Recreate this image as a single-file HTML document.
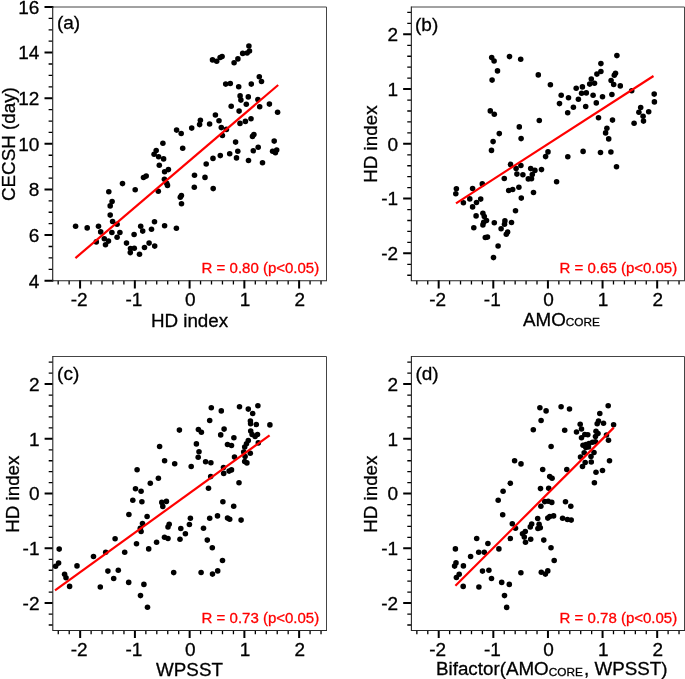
<!DOCTYPE html>
<html><head><meta charset="utf-8"><title>scatter</title>
<style>
html,body{margin:0;padding:0;background:#fff;}
body{width:685px;height:679px;overflow:hidden;}
svg{display:block;will-change:transform;}
text{font-family:"Liberation Sans",sans-serif;fill:#000;stroke:#000;stroke-width:0.3px;}
.tk{font-size:19px;}
.tt{font-size:18.8px;}
.lb{font-size:19px;}
.rr{font-size:15px;fill:#f00;stroke:#f00;stroke-width:0.3px;}
.sub{font-size:11.8px;}
</style></head><body>
<svg width="685" height="679" viewBox="0 0 685 679">
<rect width="685" height="679" fill="#fff"/>
<g id="panel-a">
<path d="M52.70 7.00H326.50V280.70" fill="none" stroke="#444" stroke-width="1"/>
<path d="M58.18 280.70v3.80M69.13 280.70v3.80M91.03 280.70v3.80M101.98 280.70v3.80M112.94 280.70v3.80M123.89 280.70v3.80M145.79 280.70v3.80M156.74 280.70v3.80M167.70 280.70v3.80M178.65 280.70v3.80M200.55 280.70v3.80M211.50 280.70v3.80M222.46 280.70v3.80M233.41 280.70v3.80M255.31 280.70v3.80M266.26 280.70v3.80M277.22 280.70v3.80M288.17 280.70v3.80M310.07 280.70v3.80M321.02 280.70v3.80M52.70 269.30h-4.10M52.70 257.89h-4.10M52.70 246.49h-4.10M52.70 223.68h-4.10M52.70 212.27h-4.10M52.70 200.87h-4.10M52.70 178.06h-4.10M52.70 166.66h-4.10M52.70 155.25h-4.10M52.70 132.45h-4.10M52.70 121.04h-4.10M52.70 109.64h-4.10M52.70 86.83h-4.10M52.70 75.43h-4.10M52.70 64.02h-4.10M52.70 41.21h-4.10M52.70 29.81h-4.10M52.70 18.40h-4.10" stroke="#000" stroke-width="1.3" fill="none"/>
<path d="M80.08 280.10v8.40M134.84 280.10v8.40M189.60 280.10v8.40M244.36 280.10v8.40M299.12 280.10v8.40M53.30 280.70h-8.80M52.70 235.08h-8.20M52.70 189.47h-8.20M52.70 143.85h-8.20M52.70 98.23h-8.20M52.70 52.62h-8.20M53.30 7.00h-8.80" stroke="#000" stroke-width="2" fill="none"/>
<path d="M52.70 6.50V280.70H327.00" fill="none" stroke="#262626" stroke-width="1.15" stroke-linejoin="miter"/>
<text class="tk" x="79.08" y="306.00" text-anchor="middle">-2</text>
<text class="tk" x="133.84" y="306.00" text-anchor="middle">-1</text>
<text class="tk" x="190.20" y="306.00" text-anchor="middle">0</text>
<text class="tk" x="244.96" y="306.00" text-anchor="middle">1</text>
<text class="tk" x="299.72" y="306.00" text-anchor="middle">2</text>
<text class="tk" x="39.40" y="287.50" text-anchor="end">4</text>
<text class="tk" x="39.40" y="241.88" text-anchor="end">6</text>
<text class="tk" x="39.40" y="196.27" text-anchor="end">8</text>
<text class="tk" x="39.40" y="150.65" text-anchor="end">10</text>
<text class="tk" x="39.40" y="105.03" text-anchor="end">12</text>
<text class="tk" x="39.40" y="59.42" text-anchor="end">14</text>
<text class="tk" x="39.40" y="13.80" text-anchor="end">16</text>
<g fill="#000"><circle cx="75.6" cy="226.3" r="2.78"/><circle cx="87.2" cy="227.9" r="2.78"/><circle cx="98.5" cy="226.3" r="2.78"/><circle cx="100.7" cy="231.9" r="2.78"/><circle cx="96.3" cy="241.9" r="2.78"/><circle cx="104.3" cy="238.7" r="2.78"/><circle cx="108.5" cy="241.1" r="2.78"/><circle cx="105.5" cy="244.7" r="2.78"/><circle cx="111.9" cy="232.5" r="2.78"/><circle cx="117.1" cy="237.3" r="2.78"/><circle cx="119.9" cy="232.5" r="2.78"/><circle cx="117.1" cy="224.3" r="2.78"/><circle cx="112.6" cy="221.5" r="2.78"/><circle cx="110.2" cy="215.1" r="2.78"/><circle cx="110.2" cy="205.9" r="2.78"/><circle cx="112.1" cy="201.5" r="2.78"/><circle cx="108.8" cy="191.7" r="2.78"/><circle cx="122.5" cy="183.6" r="2.78"/><circle cx="135.2" cy="189.7" r="2.78"/><circle cx="143.5" cy="177.5" r="2.78"/><circle cx="146.2" cy="176.1" r="2.78"/><circle cx="126.5" cy="243.1" r="2.78"/><circle cx="130.5" cy="248.5" r="2.78"/><circle cx="134.3" cy="248.3" r="2.78"/><circle cx="130.3" cy="252.6" r="2.78"/><circle cx="139.5" cy="254.2" r="2.78"/><circle cx="134.1" cy="234.5" r="2.78"/><circle cx="140.7" cy="226.3" r="2.78"/><circle cx="142.7" cy="231.1" r="2.78"/><circle cx="144.5" cy="247.5" r="2.78"/><circle cx="149.1" cy="243.1" r="2.78"/><circle cx="154.7" cy="246.1" r="2.78"/><circle cx="151.5" cy="229.3" r="2.78"/><circle cx="154.5" cy="221.7" r="2.78"/><circle cx="164.6" cy="225.7" r="2.78"/><circle cx="176.4" cy="228.3" r="2.78"/><circle cx="158.3" cy="191.3" r="2.78"/><circle cx="167.5" cy="185.4" r="2.78"/><circle cx="164.4" cy="179.3" r="2.78"/><circle cx="164.6" cy="171.7" r="2.78"/><circle cx="168.4" cy="169.6" r="2.78"/><circle cx="159.3" cy="165.3" r="2.78"/><circle cx="163.6" cy="158.9" r="2.78"/><circle cx="158.6" cy="156.8" r="2.78"/><circle cx="154.1" cy="154.2" r="2.78"/><circle cx="156.2" cy="150.6" r="2.78"/><circle cx="181.5" cy="203.8" r="2.78"/><circle cx="194.3" cy="187.2" r="2.78"/><circle cx="194.5" cy="175.3" r="2.78"/><circle cx="248.9" cy="46.0" r="2.78"/><circle cx="249.5" cy="51.0" r="2.78"/><circle cx="247.1" cy="53.0" r="2.78"/><circle cx="242.7" cy="53.4" r="2.78"/><circle cx="237.9" cy="58.9" r="2.78"/><circle cx="234.1" cy="62.7" r="2.78"/><circle cx="222.1" cy="56.5" r="2.78"/><circle cx="220.1" cy="57.5" r="2.78"/><circle cx="216.7" cy="61.3" r="2.78"/><circle cx="212.5" cy="59.9" r="2.78"/><circle cx="259.3" cy="76.7" r="2.78"/><circle cx="261.5" cy="81.5" r="2.78"/><circle cx="251.3" cy="84.1" r="2.78"/><circle cx="238.7" cy="86.7" r="2.78"/><circle cx="230.3" cy="83.5" r="2.78"/><circle cx="225.7" cy="84.1" r="2.78"/><circle cx="240.1" cy="95.9" r="2.78"/><circle cx="240.9" cy="100.1" r="2.78"/><circle cx="248.3" cy="96.9" r="2.78"/><circle cx="257.9" cy="99.5" r="2.78"/><circle cx="246.3" cy="104.3" r="2.78"/><circle cx="259.7" cy="106.7" r="2.78"/><circle cx="269.4" cy="104.1" r="2.78"/><circle cx="277.6" cy="112.3" r="2.78"/><circle cx="231.2" cy="106.2" r="2.78"/><circle cx="239.1" cy="111.1" r="2.78"/><circle cx="215.4" cy="115.0" r="2.78"/><circle cx="219.0" cy="120.8" r="2.78"/><circle cx="209.6" cy="124.0" r="2.78"/><circle cx="200.4" cy="120.3" r="2.78"/><circle cx="199.6" cy="124.6" r="2.78"/><circle cx="191.7" cy="128.1" r="2.78"/><circle cx="176.6" cy="130.1" r="2.78"/><circle cx="181.2" cy="133.5" r="2.78"/><circle cx="162.9" cy="143.3" r="2.78"/><circle cx="182.7" cy="148.2" r="2.78"/><circle cx="221.3" cy="127.6" r="2.78"/><circle cx="226.4" cy="129.4" r="2.78"/><circle cx="222.4" cy="135.5" r="2.78"/><circle cx="240.0" cy="123.4" r="2.78"/><circle cx="245.4" cy="121.4" r="2.78"/><circle cx="251.0" cy="118.8" r="2.78"/><circle cx="253.9" cy="134.6" r="2.78"/><circle cx="252.5" cy="136.4" r="2.78"/><circle cx="235.6" cy="142.1" r="2.78"/><circle cx="237.8" cy="151.3" r="2.78"/><circle cx="229.7" cy="153.8" r="2.78"/><circle cx="253.3" cy="150.8" r="2.78"/><circle cx="258.2" cy="147.2" r="2.78"/><circle cx="274.2" cy="141.1" r="2.78"/><circle cx="276.7" cy="150.1" r="2.78"/><circle cx="272.6" cy="151.2" r="2.78"/><circle cx="275.4" cy="152.7" r="2.78"/><circle cx="236.5" cy="157.9" r="2.78"/><circle cx="220.3" cy="155.6" r="2.78"/><circle cx="213.0" cy="158.4" r="2.78"/><circle cx="206.2" cy="164.0" r="2.78"/><circle cx="248.5" cy="160.5" r="2.78"/><circle cx="262.5" cy="162.7" r="2.78"/><circle cx="205.0" cy="177.4" r="2.78"/><circle cx="213.2" cy="188.6" r="2.78"/><circle cx="166.7" cy="183.3" r="2.78"/><circle cx="180.3" cy="197.3" r="2.78"/><circle cx="181.4" cy="195.6" r="2.78"/></g>
<line x1="75.4" y1="258.1" x2="278.2" y2="85.0" stroke="#f00" stroke-width="2.2"/>
<text class="rr" x="319.20" y="272.70" text-anchor="end">R = 0.80 (p&lt;0.05)</text>
<text class="lb" x="56.90" y="29.20">(a)</text>
</g>
<g id="panel-b">
<path d="M411.35 7.00H684.50V280.70" fill="none" stroke="#444" stroke-width="1"/>
<path d="M416.81 280.70v3.80M427.74 280.70v3.80M449.59 280.70v3.80M460.52 280.70v3.80M471.44 280.70v3.80M482.37 280.70v3.80M504.22 280.70v3.80M515.15 280.70v3.80M526.07 280.70v3.80M537.00 280.70v3.80M558.85 280.70v3.80M569.78 280.70v3.80M580.70 280.70v3.80M591.63 280.70v3.80M613.48 280.70v3.80M624.41 280.70v3.80M635.33 280.70v3.80M646.26 280.70v3.80M668.11 280.70v3.80M679.04 280.70v3.80M411.35 275.23h-4.10M411.35 264.28h-4.10M411.35 242.38h-4.10M411.35 231.43h-4.10M411.35 220.49h-4.10M411.35 209.54h-4.10M411.35 187.64h-4.10M411.35 176.69h-4.10M411.35 165.75h-4.10M411.35 154.80h-4.10M411.35 132.90h-4.10M411.35 121.95h-4.10M411.35 111.01h-4.10M411.35 100.06h-4.10M411.35 78.16h-4.10M411.35 67.21h-4.10M411.35 56.27h-4.10M411.35 45.32h-4.10M411.35 23.42h-4.10M411.35 12.47h-4.10" stroke="#000" stroke-width="1.3" fill="none"/>
<path d="M438.67 280.10v8.40M493.30 280.10v8.40M547.92 280.10v8.40M602.56 280.10v8.40M657.18 280.10v8.40M411.35 253.33h-8.20M411.35 198.59h-8.20M411.35 143.85h-8.20M411.35 89.11h-8.20M411.35 34.37h-8.20" stroke="#000" stroke-width="2" fill="none"/>
<path d="M411.35 6.50V280.70H685.00" fill="none" stroke="#262626" stroke-width="1.15" stroke-linejoin="miter"/>
<text class="tk" x="437.67" y="306.00" text-anchor="middle">-2</text>
<text class="tk" x="492.30" y="306.00" text-anchor="middle">-1</text>
<text class="tk" x="548.52" y="306.00" text-anchor="middle">0</text>
<text class="tk" x="603.16" y="306.00" text-anchor="middle">1</text>
<text class="tk" x="657.78" y="306.00" text-anchor="middle">2</text>
<text class="tk" x="398.05" y="260.13" text-anchor="end">-2</text>
<text class="tk" x="398.05" y="205.39" text-anchor="end">-1</text>
<text class="tk" x="398.05" y="150.65" text-anchor="end">0</text>
<text class="tk" x="398.05" y="95.91" text-anchor="end">1</text>
<text class="tk" x="398.05" y="41.17" text-anchor="end">2</text>
<g fill="#000"><circle cx="456.4" cy="188.7" r="2.78"/><circle cx="455.8" cy="193.7" r="2.78"/><circle cx="472.6" cy="188.5" r="2.78"/><circle cx="482.3" cy="183.9" r="2.78"/><circle cx="469.8" cy="198.9" r="2.78"/><circle cx="463.4" cy="202.7" r="2.78"/><circle cx="476.5" cy="202.5" r="2.78"/><circle cx="480.7" cy="199.1" r="2.78"/><circle cx="472.6" cy="206.9" r="2.78"/><circle cx="476.1" cy="215.9" r="2.78"/><circle cx="482.9" cy="213.3" r="2.78"/><circle cx="484.3" cy="216.5" r="2.78"/><circle cx="486.5" cy="220.5" r="2.78"/><circle cx="483.7" cy="222.3" r="2.78"/><circle cx="482.9" cy="224.9" r="2.78"/><circle cx="473.8" cy="227.7" r="2.78"/><circle cx="494.3" cy="222.7" r="2.78"/><circle cx="485.3" cy="237.5" r="2.78"/><circle cx="487.5" cy="237.1" r="2.78"/><circle cx="498.1" cy="246.0" r="2.78"/><circle cx="493.5" cy="257.6" r="2.78"/><circle cx="501.1" cy="228.7" r="2.78"/><circle cx="504.5" cy="224.3" r="2.78"/><circle cx="504.9" cy="220.9" r="2.78"/><circle cx="511.5" cy="222.5" r="2.78"/><circle cx="507.7" cy="232.1" r="2.78"/><circle cx="506.3" cy="234.3" r="2.78"/><circle cx="515.5" cy="210.7" r="2.78"/><circle cx="521.3" cy="198.1" r="2.78"/><circle cx="533.5" cy="192.5" r="2.78"/><circle cx="508.7" cy="190.5" r="2.78"/><circle cx="512.7" cy="189.5" r="2.78"/><circle cx="518.9" cy="187.3" r="2.78"/><circle cx="504.3" cy="178.5" r="2.78"/><circle cx="510.5" cy="164.4" r="2.78"/><circle cx="516.1" cy="168.6" r="2.78"/><circle cx="520.9" cy="165.5" r="2.78"/><circle cx="516.9" cy="174.1" r="2.78"/><circle cx="522.9" cy="174.7" r="2.78"/><circle cx="528.3" cy="178.9" r="2.78"/><circle cx="531.5" cy="178.7" r="2.78"/><circle cx="532.3" cy="174.5" r="2.78"/><circle cx="530.7" cy="168.6" r="2.78"/><circle cx="534.9" cy="170.4" r="2.78"/><circle cx="541.5" cy="169.6" r="2.78"/><circle cx="556.6" cy="181.7" r="2.78"/><circle cx="545.6" cy="156.6" r="2.78"/><circle cx="548.0" cy="151.9" r="2.78"/><circle cx="567.8" cy="156.8" r="2.78"/><circle cx="491.5" cy="150.4" r="2.78"/><circle cx="493.1" cy="141.6" r="2.78"/><circle cx="491.7" cy="57.6" r="2.78"/><circle cx="494.1" cy="61.0" r="2.78"/><circle cx="509.5" cy="56.6" r="2.78"/><circle cx="520.7" cy="59.2" r="2.78"/><circle cx="497.5" cy="70.9" r="2.78"/><circle cx="492.1" cy="80.1" r="2.78"/><circle cx="538.3" cy="74.9" r="2.78"/><circle cx="550.4" cy="84.7" r="2.78"/><circle cx="561.2" cy="95.3" r="2.78"/><circle cx="568.5" cy="97.7" r="2.78"/><circle cx="559.5" cy="103.6" r="2.78"/><circle cx="567.7" cy="112.7" r="2.78"/><circle cx="573.4" cy="107.3" r="2.78"/><circle cx="576.2" cy="88.2" r="2.78"/><circle cx="490.3" cy="110.9" r="2.78"/><circle cx="494.3" cy="114.3" r="2.78"/><circle cx="539.3" cy="120.5" r="2.78"/><circle cx="519.3" cy="126.9" r="2.78"/><circle cx="499.3" cy="133.6" r="2.78"/><circle cx="521.1" cy="138.6" r="2.78"/><circle cx="616.9" cy="55.6" r="2.78"/><circle cx="600.9" cy="63.6" r="2.78"/><circle cx="600.9" cy="71.5" r="2.78"/><circle cx="596.9" cy="74.1" r="2.78"/><circle cx="615.5" cy="73.3" r="2.78"/><circle cx="614.3" cy="75.3" r="2.78"/><circle cx="591.3" cy="79.1" r="2.78"/><circle cx="589.7" cy="84.1" r="2.78"/><circle cx="594.5" cy="83.3" r="2.78"/><circle cx="611.1" cy="80.5" r="2.78"/><circle cx="613.7" cy="84.5" r="2.78"/><circle cx="620.3" cy="85.9" r="2.78"/><circle cx="582.4" cy="86.9" r="2.78"/><circle cx="581.6" cy="93.3" r="2.78"/><circle cx="586.3" cy="92.9" r="2.78"/><circle cx="593.1" cy="95.3" r="2.78"/><circle cx="602.5" cy="96.7" r="2.78"/><circle cx="611.9" cy="94.5" r="2.78"/><circle cx="631.7" cy="90.7" r="2.78"/><circle cx="578.4" cy="99.3" r="2.78"/><circle cx="585.7" cy="106.5" r="2.78"/><circle cx="596.3" cy="102.9" r="2.78"/><circle cx="598.5" cy="117.7" r="2.78"/><circle cx="612.5" cy="120.1" r="2.78"/><circle cx="606.9" cy="128.3" r="2.78"/><circle cx="605.6" cy="132.9" r="2.78"/><circle cx="608.7" cy="138.9" r="2.78"/><circle cx="634.1" cy="123.3" r="2.78"/><circle cx="640.7" cy="107.5" r="2.78"/><circle cx="638.9" cy="112.3" r="2.78"/><circle cx="643.1" cy="116.3" r="2.78"/><circle cx="643.5" cy="121.1" r="2.78"/><circle cx="648.7" cy="111.7" r="2.78"/><circle cx="654.2" cy="94.1" r="2.78"/><circle cx="654.4" cy="101.9" r="2.78"/><circle cx="583.1" cy="151.4" r="2.78"/><circle cx="600.5" cy="152.5" r="2.78"/><circle cx="610.9" cy="152.0" r="2.78"/><circle cx="616.5" cy="166.7" r="2.78"/></g>
<line x1="456.0" y1="203.3" x2="653.5" y2="76.0" stroke="#f00" stroke-width="2.2"/>
<text class="rr" x="677.20" y="272.70" text-anchor="end">R = 0.65 (p&lt;0.05)</text>
<text class="lb" x="415.05" y="31.00">(b)</text>
</g>
<g id="panel-c">
<path d="M52.80 356.50H326.50V630.50" fill="none" stroke="#444" stroke-width="1"/>
<path d="M58.27 630.50v3.70M69.22 630.50v3.70M91.12 630.50v3.70M102.07 630.50v3.70M113.01 630.50v3.70M123.96 630.50v3.70M145.86 630.50v3.70M156.81 630.50v3.70M167.75 630.50v3.70M178.70 630.50v3.70M200.60 630.50v3.70M211.55 630.50v3.70M222.49 630.50v3.70M233.44 630.50v3.70M255.34 630.50v3.70M266.29 630.50v3.70M277.23 630.50v3.70M288.18 630.50v3.70M310.08 630.50v3.70M321.03 630.50v3.70M52.80 625.02h-4.10M52.80 614.07h-4.10M52.80 592.17h-4.10M52.80 581.22h-4.10M52.80 570.26h-4.10M52.80 559.31h-4.10M52.80 537.41h-4.10M52.80 526.46h-4.10M52.80 515.50h-4.10M52.80 504.55h-4.10M52.80 482.65h-4.10M52.80 471.70h-4.10M52.80 460.74h-4.10M52.80 449.79h-4.10M52.80 427.89h-4.10M52.80 416.94h-4.10M52.80 405.98h-4.10M52.80 395.03h-4.10M52.80 373.13h-4.10M52.80 362.18h-4.10" stroke="#000" stroke-width="1.3" fill="none"/>
<path d="M80.17 629.90v8.20M134.91 629.90v8.20M189.65 629.90v8.20M244.39 629.90v8.20M299.13 629.90v8.20M52.80 603.12h-8.20M52.80 548.36h-8.20M52.80 493.60h-8.20M52.80 438.84h-8.20M52.80 384.08h-8.20" stroke="#000" stroke-width="2" fill="none"/>
<path d="M52.80 356.00V630.50H327.00" fill="none" stroke="#262626" stroke-width="1.1" stroke-linejoin="miter"/>
<text class="tk" x="79.17" y="655.50" text-anchor="middle">-2</text>
<text class="tk" x="133.91" y="655.50" text-anchor="middle">-1</text>
<text class="tk" x="190.25" y="655.50" text-anchor="middle">0</text>
<text class="tk" x="244.99" y="655.50" text-anchor="middle">1</text>
<text class="tk" x="299.73" y="655.50" text-anchor="middle">2</text>
<text class="tk" x="39.50" y="609.92" text-anchor="end">-2</text>
<text class="tk" x="39.50" y="555.16" text-anchor="end">-1</text>
<text class="tk" x="39.50" y="500.40" text-anchor="end">0</text>
<text class="tk" x="39.50" y="445.64" text-anchor="end">1</text>
<text class="tk" x="39.50" y="390.88" text-anchor="end">2</text>
<g fill="#000"><circle cx="59.2" cy="549.1" r="2.78"/><circle cx="58.6" cy="563.1" r="2.78"/><circle cx="55.6" cy="566.3" r="2.78"/><circle cx="64.6" cy="574.3" r="2.78"/><circle cx="66.0" cy="577.7" r="2.78"/><circle cx="69.6" cy="586.4" r="2.78"/><circle cx="77.0" cy="565.9" r="2.78"/><circle cx="93.5" cy="556.5" r="2.78"/><circle cx="105.7" cy="552.3" r="2.78"/><circle cx="115.1" cy="538.7" r="2.78"/><circle cx="107.9" cy="571.1" r="2.78"/><circle cx="113.7" cy="578.5" r="2.78"/><circle cx="118.3" cy="570.3" r="2.78"/><circle cx="100.3" cy="587.0" r="2.78"/><circle cx="124.7" cy="552.3" r="2.78"/><circle cx="128.7" cy="582.4" r="2.78"/><circle cx="143.9" cy="584.4" r="2.78"/><circle cx="140.5" cy="595.6" r="2.78"/><circle cx="147.5" cy="607.2" r="2.78"/><circle cx="173.7" cy="572.6" r="2.78"/><circle cx="136.5" cy="543.7" r="2.78"/><circle cx="148.7" cy="548.9" r="2.78"/><circle cx="156.6" cy="542.3" r="2.78"/><circle cx="164.5" cy="537.3" r="2.78"/><circle cx="168.0" cy="538.5" r="2.78"/><circle cx="180.0" cy="539.3" r="2.78"/><circle cx="185.4" cy="533.8" r="2.78"/><circle cx="180.8" cy="528.5" r="2.78"/><circle cx="168.0" cy="527.0" r="2.78"/><circle cx="169.2" cy="524.2" r="2.78"/><circle cx="141.1" cy="531.5" r="2.78"/><circle cx="140.3" cy="528.3" r="2.78"/><circle cx="142.5" cy="523.5" r="2.78"/><circle cx="147.1" cy="516.5" r="2.78"/><circle cx="128.9" cy="514.5" r="2.78"/><circle cx="132.8" cy="500.3" r="2.78"/><circle cx="141.9" cy="501.8" r="2.78"/><circle cx="135.5" cy="488.7" r="2.78"/><circle cx="141.1" cy="491.3" r="2.78"/><circle cx="150.3" cy="483.3" r="2.78"/><circle cx="162.8" cy="506.4" r="2.78"/><circle cx="161.8" cy="502.4" r="2.78"/><circle cx="166.4" cy="501.4" r="2.78"/><circle cx="211.3" cy="407.7" r="2.78"/><circle cx="221.3" cy="410.9" r="2.78"/><circle cx="239.5" cy="406.7" r="2.78"/><circle cx="248.3" cy="409.1" r="2.78"/><circle cx="257.9" cy="405.7" r="2.78"/><circle cx="252.7" cy="413.5" r="2.78"/><circle cx="209.7" cy="420.5" r="2.78"/><circle cx="256.3" cy="424.5" r="2.78"/><circle cx="269.9" cy="424.9" r="2.78"/><circle cx="179.4" cy="430.1" r="2.78"/><circle cx="198.4" cy="429.5" r="2.78"/><circle cx="201.4" cy="432.3" r="2.78"/><circle cx="224.1" cy="429.1" r="2.78"/><circle cx="220.7" cy="434.9" r="2.78"/><circle cx="233.9" cy="437.7" r="2.78"/><circle cx="250.7" cy="431.1" r="2.78"/><circle cx="252.1" cy="434.5" r="2.78"/><circle cx="257.5" cy="434.5" r="2.78"/><circle cx="255.1" cy="436.5" r="2.78"/><circle cx="196.4" cy="443.9" r="2.78"/><circle cx="227.5" cy="444.5" r="2.78"/><circle cx="231.5" cy="445.5" r="2.78"/><circle cx="248.3" cy="440.5" r="2.78"/><circle cx="246.5" cy="443.7" r="2.78"/><circle cx="244.7" cy="447.1" r="2.78"/><circle cx="258.3" cy="442.9" r="2.78"/><circle cx="199.0" cy="451.7" r="2.78"/><circle cx="198.2" cy="457.3" r="2.78"/><circle cx="243.7" cy="452.1" r="2.78"/><circle cx="250.3" cy="453.3" r="2.78"/><circle cx="245.1" cy="456.5" r="2.78"/><circle cx="234.5" cy="457.1" r="2.78"/><circle cx="244.7" cy="461.5" r="2.78"/><circle cx="246.9" cy="462.9" r="2.78"/><circle cx="205.6" cy="461.7" r="2.78"/><circle cx="210.9" cy="462.7" r="2.78"/><circle cx="174.7" cy="463.8" r="2.78"/><circle cx="191.2" cy="466.5" r="2.78"/><circle cx="223.5" cy="467.5" r="2.78"/><circle cx="223.7" cy="473.4" r="2.78"/><circle cx="229.1" cy="471.1" r="2.78"/><circle cx="231.5" cy="469.9" r="2.78"/><circle cx="210.7" cy="476.6" r="2.78"/><circle cx="239.0" cy="482.8" r="2.78"/><circle cx="208.5" cy="488.3" r="2.78"/><circle cx="222.9" cy="501.8" r="2.78"/><circle cx="233.7" cy="506.2" r="2.78"/><circle cx="190.4" cy="518.3" r="2.78"/><circle cx="209.7" cy="518.3" r="2.78"/><circle cx="217.5" cy="515.9" r="2.78"/><circle cx="227.5" cy="518.1" r="2.78"/><circle cx="229.7" cy="519.3" r="2.78"/><circle cx="241.1" cy="520.1" r="2.78"/><circle cx="189.4" cy="524.5" r="2.78"/><circle cx="203.5" cy="528.3" r="2.78"/><circle cx="207.3" cy="540.1" r="2.78"/><circle cx="212.3" cy="547.7" r="2.78"/><circle cx="222.5" cy="560.5" r="2.78"/><circle cx="217.7" cy="570.9" r="2.78"/><circle cx="212.5" cy="574.1" r="2.78"/><circle cx="201.1" cy="572.5" r="2.78"/><circle cx="159.6" cy="446.5" r="2.78"/><circle cx="164.6" cy="460.7" r="2.78"/><circle cx="137.1" cy="469.7" r="2.78"/><circle cx="158.4" cy="478.2" r="2.78"/><circle cx="250.4" cy="421.0" r="2.78"/><circle cx="250.6" cy="423.8" r="2.78"/></g>
<line x1="55.0" y1="590.4" x2="269.6" y2="435.3" stroke="#f00" stroke-width="2.2"/>
<text class="rr" x="319.20" y="622.50" text-anchor="end">R = 0.73 (p&lt;0.05)</text>
<text class="lb" x="57.10" y="379.80">(c)</text>
</g>
<g id="panel-d">
<path d="M411.40 356.50H684.50V630.50" fill="none" stroke="#444" stroke-width="1"/>
<path d="M416.86 630.50v3.70M427.79 630.50v3.70M449.63 630.50v3.70M460.56 630.50v3.70M471.48 630.50v3.70M482.41 630.50v3.70M504.25 630.50v3.70M515.18 630.50v3.70M526.10 630.50v3.70M537.03 630.50v3.70M558.87 630.50v3.70M569.80 630.50v3.70M580.72 630.50v3.70M591.65 630.50v3.70M613.49 630.50v3.70M624.42 630.50v3.70M635.34 630.50v3.70M646.27 630.50v3.70M668.11 630.50v3.70M679.04 630.50v3.70M411.40 625.02h-4.10M411.40 614.07h-4.10M411.40 592.17h-4.10M411.40 581.22h-4.10M411.40 570.26h-4.10M411.40 559.31h-4.10M411.40 537.41h-4.10M411.40 526.46h-4.10M411.40 515.50h-4.10M411.40 504.55h-4.10M411.40 482.65h-4.10M411.40 471.70h-4.10M411.40 460.74h-4.10M411.40 449.79h-4.10M411.40 427.89h-4.10M411.40 416.94h-4.10M411.40 405.98h-4.10M411.40 395.03h-4.10M411.40 373.13h-4.10M411.40 362.18h-4.10" stroke="#000" stroke-width="1.3" fill="none"/>
<path d="M438.71 629.90v8.20M493.33 629.90v8.20M547.95 629.90v8.20M602.57 629.90v8.20M657.19 629.90v8.20M411.40 603.12h-8.20M411.40 548.36h-8.20M411.40 493.60h-8.20M411.40 438.84h-8.20M411.40 384.08h-8.20" stroke="#000" stroke-width="2" fill="none"/>
<path d="M411.40 356.00V630.50H685.00" fill="none" stroke="#262626" stroke-width="1.1" stroke-linejoin="miter"/>
<text class="tk" x="437.71" y="655.50" text-anchor="middle">-2</text>
<text class="tk" x="492.33" y="655.50" text-anchor="middle">-1</text>
<text class="tk" x="548.55" y="655.50" text-anchor="middle">0</text>
<text class="tk" x="603.17" y="655.50" text-anchor="middle">1</text>
<text class="tk" x="657.79" y="655.50" text-anchor="middle">2</text>
<text class="tk" x="398.10" y="609.92" text-anchor="end">-2</text>
<text class="tk" x="398.10" y="555.16" text-anchor="end">-1</text>
<text class="tk" x="398.10" y="500.40" text-anchor="end">0</text>
<text class="tk" x="398.10" y="445.64" text-anchor="end">1</text>
<text class="tk" x="398.10" y="390.88" text-anchor="end">2</text>
<g fill="#000"><circle cx="569.5" cy="409.0" r="2.78"/><circle cx="608.2" cy="405.8" r="2.78"/><circle cx="599.8" cy="413.5" r="2.78"/><circle cx="598.5" cy="421.0" r="2.78"/><circle cx="597.2" cy="423.8" r="2.78"/><circle cx="603.5" cy="423.3" r="2.78"/><circle cx="613.6" cy="424.7" r="2.78"/><circle cx="580.2" cy="424.3" r="2.78"/><circle cx="581.5" cy="429.0" r="2.78"/><circle cx="576.5" cy="432.0" r="2.78"/><circle cx="564.7" cy="430.2" r="2.78"/><circle cx="584.8" cy="434.5" r="2.78"/><circle cx="587.8" cy="434.7" r="2.78"/><circle cx="581.5" cy="437.7" r="2.78"/><circle cx="596.0" cy="431.2" r="2.78"/><circle cx="598.0" cy="433.5" r="2.78"/><circle cx="595.5" cy="436.5" r="2.78"/><circle cx="606.5" cy="435.0" r="2.78"/><circle cx="608.5" cy="440.3" r="2.78"/><circle cx="583.0" cy="445.2" r="2.78"/><circle cx="586.0" cy="444.5" r="2.78"/><circle cx="589.0" cy="443.5" r="2.78"/><circle cx="592.5" cy="442.2" r="2.78"/><circle cx="595.5" cy="441.8" r="2.78"/><circle cx="585.8" cy="447.5" r="2.78"/><circle cx="588.5" cy="447.0" r="2.78"/><circle cx="584.2" cy="452.8" r="2.78"/><circle cx="594.0" cy="452.5" r="2.78"/><circle cx="591.0" cy="456.5" r="2.78"/><circle cx="580.5" cy="457.0" r="2.78"/><circle cx="585.2" cy="462.5" r="2.78"/><circle cx="591.3" cy="462.0" r="2.78"/><circle cx="582.5" cy="466.5" r="2.78"/><circle cx="609.5" cy="460.8" r="2.78"/><circle cx="566.8" cy="469.5" r="2.78"/><circle cx="602.5" cy="470.5" r="2.78"/><circle cx="596.0" cy="472.2" r="2.78"/><circle cx="455.4" cy="548.9" r="2.78"/><circle cx="456.0" cy="562.9" r="2.78"/><circle cx="454.6" cy="566.1" r="2.78"/><circle cx="463.4" cy="565.9" r="2.78"/><circle cx="459.2" cy="574.3" r="2.78"/><circle cx="456.4" cy="577.5" r="2.78"/><circle cx="463.2" cy="586.4" r="2.78"/><circle cx="470.6" cy="556.5" r="2.78"/><circle cx="476.7" cy="538.5" r="2.78"/><circle cx="478.7" cy="552.3" r="2.78"/><circle cx="484.3" cy="552.3" r="2.78"/><circle cx="487.9" cy="543.5" r="2.78"/><circle cx="482.5" cy="571.1" r="2.78"/><circle cx="488.9" cy="570.3" r="2.78"/><circle cx="491.5" cy="578.5" r="2.78"/><circle cx="478.9" cy="587.0" r="2.78"/><circle cx="498.9" cy="548.9" r="2.78"/><circle cx="501.7" cy="582.4" r="2.78"/><circle cx="509.3" cy="584.4" r="2.78"/><circle cx="504.5" cy="595.6" r="2.78"/><circle cx="506.7" cy="607.4" r="2.78"/><circle cx="520.9" cy="572.7" r="2.78"/><circle cx="510.3" cy="538.5" r="2.78"/><circle cx="502.7" cy="514.7" r="2.78"/><circle cx="498.2" cy="500.3" r="2.78"/><circle cx="503.1" cy="491.2" r="2.78"/><circle cx="510.3" cy="483.3" r="2.78"/><circle cx="512.3" cy="523.7" r="2.78"/><circle cx="515.5" cy="528.3" r="2.78"/><circle cx="522.5" cy="533.7" r="2.78"/><circle cx="525.3" cy="531.5" r="2.78"/><circle cx="524.3" cy="537.1" r="2.78"/><circle cx="525.5" cy="542.3" r="2.78"/><circle cx="530.7" cy="539.3" r="2.78"/><circle cx="530.3" cy="526.9" r="2.78"/><circle cx="531.7" cy="524.1" r="2.78"/><circle cx="537.7" cy="518.5" r="2.78"/><circle cx="539.1" cy="524.3" r="2.78"/><circle cx="537.9" cy="528.5" r="2.78"/><circle cx="540.3" cy="527.7" r="2.78"/><circle cx="543.8" cy="540.1" r="2.78"/><circle cx="551.0" cy="547.7" r="2.78"/><circle cx="554.2" cy="560.5" r="2.78"/><circle cx="547.8" cy="570.9" r="2.78"/><circle cx="541.3" cy="572.3" r="2.78"/><circle cx="545.4" cy="574.1" r="2.78"/><circle cx="540.9" cy="506.2" r="2.78"/><circle cx="540.5" cy="488.6" r="2.78"/><circle cx="548.7" cy="488.3" r="2.78"/><circle cx="544.7" cy="501.6" r="2.78"/><circle cx="548.2" cy="501.2" r="2.78"/><circle cx="551.8" cy="502.4" r="2.78"/><circle cx="547.8" cy="518.1" r="2.78"/><circle cx="549.8" cy="516.5" r="2.78"/><circle cx="553.6" cy="515.9" r="2.78"/><circle cx="562.6" cy="518.3" r="2.78"/><circle cx="567.4" cy="519.5" r="2.78"/><circle cx="571.2" cy="520.1" r="2.78"/><circle cx="565.5" cy="501.7" r="2.78"/><circle cx="570.8" cy="506.2" r="2.78"/><circle cx="561.1" cy="406.7" r="2.78"/><circle cx="546.1" cy="410.9" r="2.78"/><circle cx="539.9" cy="407.7" r="2.78"/><circle cx="541.1" cy="420.5" r="2.78"/><circle cx="533.3" cy="429.7" r="2.78"/><circle cx="551.1" cy="446.5" r="2.78"/><circle cx="514.6" cy="460.7" r="2.78"/><circle cx="521.0" cy="463.9" r="2.78"/><circle cx="542.7" cy="469.5" r="2.78"/><circle cx="549.7" cy="476.6" r="2.78"/><circle cx="552.1" cy="478.2" r="2.78"/><circle cx="594.4" cy="482.8" r="2.78"/></g>
<line x1="455.4" y1="585.7" x2="613.8" y2="427.6" stroke="#f00" stroke-width="2.2"/>
<text class="rr" x="677.20" y="622.50" text-anchor="end">R = 0.78 (p&lt;0.05)</text>
<text class="lb" x="415.40" y="379.70">(d)</text>
</g>

<text class="tt" x="189.5" y="326.8" text-anchor="middle">HD index</text>
<text class="tt" x="523" y="325.6">AMO<tspan class="sub" dy="0.6">CORE</tspan></text>
<text class="tt" x="189.5" y="676.3" text-anchor="middle">WPSST</text>
<text class="tt" x="436" y="675.4">Bifactor(AMO<tspan class="sub" dy="0.6">CORE</tspan><tspan dy="-0.6" dx="1.2">, WPSST)</tspan></text>
<text class="tt" transform="translate(15.3,144.1) rotate(-90)" text-anchor="middle">CECSH (day)</text>
<text class="tt" transform="translate(377,144.1) rotate(-90)" text-anchor="middle">HD index</text>
<text class="tt" transform="translate(18.7,494.2) rotate(-90)" text-anchor="middle">HD index</text>
<text class="tt" transform="translate(377,494.2) rotate(-90)" text-anchor="middle">HD index</text>
</svg>
</body></html>
